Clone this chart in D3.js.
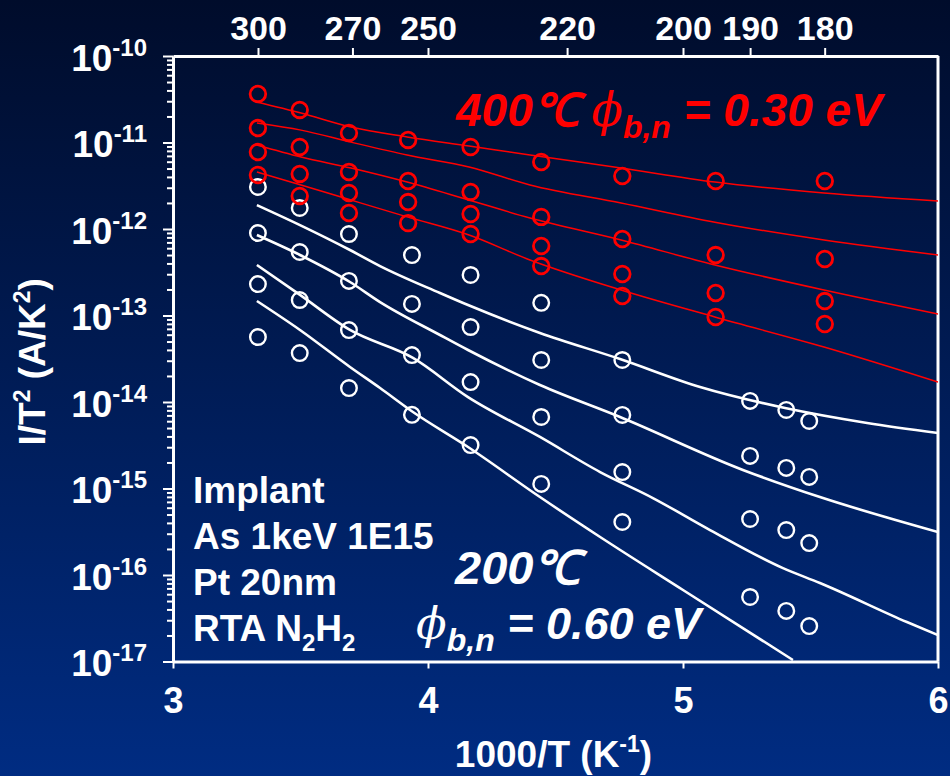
<!DOCTYPE html>
<html><head><meta charset="utf-8">
<script src="https://cdn.jsdelivr.net/npm/d3@7"></script>
<style>
html,body{margin:0;padding:0;}
body{width:950px;height:776px;overflow:hidden;background:#001a55;}
svg text{font-family:"Liberation Sans",Arial,Helvetica,sans-serif;font-weight:bold;}
</style></head><body>
<svg id="chart" width="950" height="776"></svg>
<script>
// ---------- DATA ----------
// x = 1000/T (K^-1), y = I/T^2 (A/K^2)
const redX = [3.333, 3.497, 3.690, 3.922, 4.167, 4.444, 4.762, 5.128, 5.556];
const red1 = [3.64e-11, 2.38e-11, 1.29e-11, 1.07e-11, 8.87e-12, 5.95e-12, 4.10e-12, 3.59e-12, 3.59e-12];
const red2 = [1.47e-11, 8.87e-12, 4.56e-12, 3.59e-12, 2.68e-12, 1.38e-12, 7.66e-13, 5.00e-13, 4.50e-13];
const red3 = [7.76e-12, 4.33e-12, 2.61e-12, 2.05e-12, 1.49e-12, 6.36e-13, 3.02e-13, 1.82e-13, 1.47e-13];
const red4 = [4.21e-12, 2.41e-12, 1.53e-12, 1.17e-12, 8.75e-13, 3.73e-13, 1.68e-13, 9.61e-14, 7.98e-14];

const whiteX = [3.333, 3.497, 3.690, 3.937, 4.167, 4.444, 4.762, 5.263, 5.405, 5.495];
const white1 = [3.06e-12, 1.75e-12, 8.75e-13, 5.0e-13, 2.94e-13, 1.40e-13, 3.06e-14, 1.03e-14, 8.09e-15, 6.03e-15];
const white2 = [8.99e-13, 5.42e-13, 2.51e-13, 1.36e-13, 7.36e-14, 3.06e-14, 7.08e-15, 2.38e-15, 1.73e-15, 1.36e-15];
const white3 = [2.31e-13, 1.51e-13, 6.79e-14, 3.49e-14, 1.70e-14, 6.71e-15, 1.55e-15, 4.44e-16, 3.31e-16, 2.34e-16];
const white4 = [5.64e-14, 3.68e-14, 1.45e-14, 7.1e-15, 3.18e-15, 1.13e-15, 4.10e-16, 5.57e-17, 3.84e-17, 2.57e-17];

// fitted curves
const redFitX = [3.329, 3.502, 3.698, 3.918, 4.161, 4.400, 4.757, 5.125, 5.553, 6.0];
const redFit1 = [2.94e-11, 2.19e-11, 1.51e-11, 1.16e-11, 9.11e-12, 7.17e-12, 5.07e-12, 3.49e-12, 2.61e-12, 2.11e-12];
const redFit2 = [1.68e-11, 1.39e-11, 1.01e-11, 7.17e-12, 5.21e-12, 3.23e-12, 2.00e-12, 1.20e-12, 7.46e-13, 5.01e-13];
const redFit3 = [9.36e-12, 6.80e-12, 5.07e-12, 3.49e-12, 2.16e-12, 1.34e-12, 7.46e-13, 3.84e-13, 1.97e-13, 1.04e-13];
const redFit4 = [4.56e-12, 3.23e-12, 2.16e-12, 1.38e-12, 8.52e-13, 4.38e-13, 1.97e-13, 9.61e-14, 4.32e-14, 1.70e-14];

const whiteFit1X = [3.329, 3.498, 3.694, 3.812, 4.047, 4.157, 4.439, 4.753, 5.067, 5.400, 5.722, 6.0];
const whiteFit1  = [1.89e-12, 1.11e-12, 5.72e-13, 3.73e-13, 1.82e-13, 1.32e-13, 6.28e-14, 3.14e-14, 1.49e-14, 8.52e-15, 5.72e-15, 4.38e-15];
const whiteFit2X = [3.329, 3.498, 3.694, 3.812, 4.047, 4.157, 4.439, 4.753, 5.235, 5.537, 6.0];
const whiteFit2  = [8.52e-13, 5.01e-13, 2.44e-13, 1.43e-13, 5.95e-14, 3.99e-14, 1.57e-14, 6.71e-15, 1.64e-15, 7.97e-16, 3.14e-16];
const whiteFit3X = [3.329, 3.498, 3.694, 3.941, 4.157, 4.439, 4.675, 4.882, 5.106, 5.392, 5.537, 5.878, 6.0];
const whiteFit3  = [3.84e-13, 1.73e-13, 6.80e-14, 3.23e-14, 1.14e-14, 3.94e-15, 1.55e-15, 7.76e-16, 3.31e-16, 1.20e-16, 8.08e-17, 2.86e-17, 2.02e-17];
const whiteFit4X = [3.329, 3.498, 3.694, 3.812, 3.941, 4.157, 4.439, 4.675, 5.0, 5.431];
const whiteFit4  = [1.47e-13, 6.80e-14, 2.54e-14, 1.45e-14, 7.66e-15, 3.02e-15, 7.97e-16, 2.75e-16, 6.71e-17, 1.04e-17];

const xTicks = [3, 4, 5, 6];
const topTempTicks = [300, 270, 250, 220, 200, 190, 180];
const yMajorExp = [-10, -11, -12, -13, -14, -15, -16, -17];
const infoLines = ["Implant", "As 1keV 1E15", "Pt 20nm"];

// ---------- LAYOUT ----------
const W = 950, H = 776;
const L = 173, R = 938, T = 56, B = 661.5;
const svg = d3.select("#chart");

const defs = svg.append("defs");
const grad = defs.append("linearGradient").attr("id", "bg").attr("x1", 0).attr("y1", 0).attr("x2", 0).attr("y2", 1);
grad.append("stop").attr("offset", "0%").attr("stop-color", "#000c2b");
grad.append("stop").attr("offset", "100%").attr("stop-color", "#002c82");
svg.append("rect").attr("width", W).attr("height", H).attr("fill", "url(#bg)");
defs.append("clipPath").attr("id", "clip").append("rect").attr("x", L).attr("y", T).attr("width", R - L).attr("height", B - T);

const x = d3.scaleLinear().domain([3, 6]).range([L, R]);
const y = d3.scaleLog().domain([1e-17, 1e-10]).range([B, T]);

// ---------- AXES ----------
const minorTicks = [];
for (let e = -17; e < -10; e++) for (let m = 2; m <= 9; m++) minorTicks.push(m * Math.pow(10, e));
const majorTicks = yMajorExp.map(e => Math.pow(10, e));

function styleAxis(g) {
  g.attr("font-family", null).attr("font-size", null);
  g.selectAll("path.domain").attr("stroke", "#fff").attr("stroke-width", 3);
  g.selectAll(".tick line").attr("stroke", "#fff").attr("stroke-width", 2);
}
svg.append("g").attr("transform", `translate(${L},0)`)
  .call(d3.axisLeft(y).tickValues(minorTicks).tickSize(6).tickSizeOuter(0).tickFormat(""))
  .call(styleAxis);
const yAxisG = svg.append("g").attr("transform", `translate(${L},0)`)
  .call(d3.axisLeft(y).tickValues(majorTicks).tickSize(10).tickSizeOuter(0).tickFormat(""))
  .call(styleAxis);
yAxisG.selectAll(".tick").each(function (d) {
  const e = Math.round(Math.log10(d));
  const t = d3.select(this).append("text").attr("x", -26).attr("y", 14)
    .attr("text-anchor", "end").attr("fill", "#fff").style("font-size", "37px");
  t.append("tspan").text("10");
  t.append("tspan").attr("dy", -15).style("font-size", "24px").text(String(e));
});

const xAxisG = svg.append("g").attr("transform", `translate(0,${B})`)
  .call(d3.axisBottom(x).tickValues(xTicks).tickSize(7).tickSizeOuter(0).tickFormat(d3.format("d")))
  .call(styleAxis);
xAxisG.selectAll(".tick text").attr("fill", "#fff").attr("dy", 0).attr("y", 51).style("font-size", "36px");

const topAxisG = svg.append("g").attr("transform", `translate(0,${T})`)
  .call(d3.axisTop(x).tickValues(topTempTicks.map(t => 1000 / t)).tickSize(8).tickSizeOuter(0)
    .tickFormat((d, i) => topTempTicks[i]))
  .call(styleAxis);
topAxisG.selectAll(".tick text").attr("fill", "#fff").attr("y", -16).style("font-size", "34px");

svg.append("line").attr("x1", x(6)).attr("x2", x(6)).attr("y1", y(1e-10)).attr("y2", y(1e-17))
  .attr("stroke", "#fff").attr("stroke-width", 3);

// axis titles
svg.append("text").attr("x", (L + R) / 2 - 2).attr("y", 767).attr("text-anchor", "middle")
  .attr("fill", "#fff").style("font-size", "37px")
  .call(t => {
    t.append("tspan").text("1000/T (K");
    t.append("tspan").attr("dy", -15).style("font-size", "23px").text("-1");
    t.append("tspan").attr("dy", 15).text(")");
  });
svg.append("text").attr("transform", `translate(45,${(T + B) / 2 + 3}) rotate(-90)`)
  .attr("text-anchor", "middle").attr("fill", "#fff").style("font-size", "37px")
  .call(t => {
    t.append("tspan").text("I/T");
    t.append("tspan").attr("dy", -15).style("font-size", "23px").text("2");
    t.append("tspan").attr("dy", 15).text(" (A/K");
    t.append("tspan").attr("dy", -15).style("font-size", "23px").text("2");
    t.append("tspan").attr("dy", 15).text(")");
  });

// ---------- CURVES ----------
const plot = svg.append("g").attr("clip-path", "url(#clip)");
const line = d3.line().x(d => x(d[0])).y(d => y(d[1])).curve(d3.curveMonotoneX);
const zip = (a, b) => a.map((v, i) => [v, b[i]]);

[redFit1, redFit2, redFit3, redFit4].forEach(f => {
  plot.append("path").attr("d", line(zip(redFitX, f))).attr("fill", "none")
    .attr("stroke", "#ff0000").attr("stroke-width", 1.5);
});
[[whiteFit1X, whiteFit1], [whiteFit2X, whiteFit2], [whiteFit3X, whiteFit3], [whiteFit4X, whiteFit4]].forEach(([fx, f]) => {
  plot.append("path").attr("d", line(zip(fx, f))).attr("fill", "none")
    .attr("stroke", "#ffffff").attr("stroke-width", 2.6);
});

// ---------- POINTS ----------
[white1, white2, white3, white4].forEach(s => {
  svg.append("g").selectAll("circle").data(zip(whiteX, s)).join("circle")
    .attr("cx", d => x(d[0])).attr("cy", d => y(d[1])).attr("r", 7.8)
    .attr("fill", "none").attr("stroke", "#fff").attr("stroke-width", 2.4);
});
[red1, red2, red3, red4].forEach(s => {
  svg.append("g").selectAll("circle").data(zip(redX, s)).join("circle")
    .attr("cx", d => x(d[0])).attr("cy", d => y(d[1])).attr("r", 7.8)
    .attr("fill", "none").attr("stroke", "#ff0000").attr("stroke-width", 2.8);
});

// ---------- ANNOTATIONS ----------
function phiLabel(sel, value) {
  sel.append("tspan").style("font-weight", "normal").style("font-family", "'DejaVu Serif','Liberation Serif',serif").text("ϕ");
  sel.append("tspan").attr("dy", 12).style("font-size", "32px").text("b,n");
  sel.append("tspan").attr("dy", -12).text(" = " + value + " eV");
}
const redLbl = svg.append("text").attr("x", 456).attr("y", 126).attr("fill", "#ff0000")
  .style("font-size", "46px").style("font-style", "italic");
redLbl.append("tspan").text("400℃ ");
phiLabel(redLbl, "0.30");

svg.append("text").attr("x", 455).attr("y", 584).attr("fill", "#fff")
  .style("font-size", "47px").style("font-style", "italic").text("200℃");
const whiteLbl = svg.append("text").attr("x", 416).attr("y", 639).attr("fill", "#fff")
  .style("font-size", "45px").style("font-style", "italic");
phiLabel(whiteLbl, "0.60");

infoLines.forEach((s, i) => {
  svg.append("text").attr("x", 193).attr("y", 503 + i * 46).attr("fill", "#fff")
    .style("font-size", "37px").text(s);
});
const rta = svg.append("text").attr("x", 193).attr("y", 503 + 3 * 46).attr("fill", "#fff").style("font-size", "37px");
rta.append("tspan").text("RTA N");
rta.append("tspan").attr("dy", 10).style("font-size", "24px").text("2");
rta.append("tspan").attr("dy", -10).text("H");
rta.append("tspan").attr("dy", 10).style("font-size", "24px").text("2");
</script>
</body></html>
